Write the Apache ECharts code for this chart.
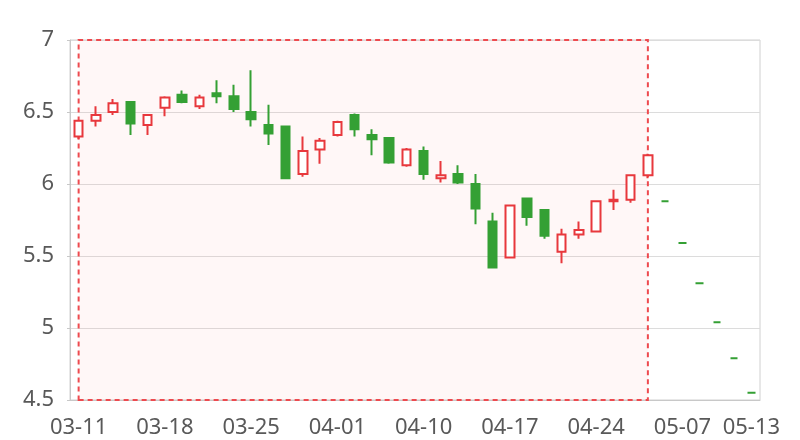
<!DOCTYPE html>
<html>
<head>
<meta charset="utf-8">
<script src="https://cdn.jsdelivr.net/npm/echarts@6/dist/echarts.min.js"></script>
<style>
html,body{margin:0;padding:0;background:#fff;}
#chart{width:800px;height:440px;}
</style>
</head>
<body>
<div id="chart"></div>
<script>
var dates = ['03-11','03-12','03-13','03-14','03-15','03-18','03-19','03-20','03-21','03-22',
  '03-25','03-26','03-27','03-28','03-29','04-01','04-02','04-03','04-08','04-09',
  '04-10','04-11','04-12','04-15','04-16','04-17','04-18','04-19','04-22','04-23',
  '04-24','04-25','04-26','04-30','05-06','05-07','05-08','05-09','05-10','05-13'];
var opens  = [6.33,6.44,6.50,6.57,6.41,6.53,6.62,6.54,6.63,6.61,6.50,6.41,6.40,6.07,6.24,6.34,6.48,6.34,6.32,6.13,6.23,6.04,6.07,6.00,5.74,5.49,5.90,5.82,5.53,5.65,5.67,5.88,5.89,6.06];
var closes = [6.44,6.48,6.56,6.42,6.48,6.60,6.57,6.60,6.61,6.52,6.45,6.35,6.04,6.23,6.30,6.43,6.38,6.31,6.15,6.24,6.07,6.06,6.01,5.83,5.42,5.85,5.77,5.64,5.65,5.68,5.88,5.89,6.06,6.20];
var lows   = [6.31,6.40,6.48,6.34,6.34,6.47,6.56,6.52,6.56,6.50,6.40,6.27,6.04,6.05,6.14,6.33,6.33,6.20,6.14,6.12,6.03,6.01,6.00,5.72,5.42,5.49,5.71,5.62,5.45,5.62,5.67,5.82,5.87,6.04];
var highs  = [6.44,6.54,6.59,6.57,6.48,6.61,6.65,6.62,6.72,6.69,6.79,6.55,6.40,6.33,6.32,6.44,6.49,6.38,6.32,6.25,6.26,6.16,6.13,6.07,5.80,5.85,5.90,5.82,5.69,5.74,5.88,5.96,6.06,6.21];
var forecast = [5.88,5.59,5.31,5.04,4.79,4.55];
var yTicks = [4.5,5,5.5,6,6.5,7];

var RED = '#e8383d', GREEN = '#34a034';
var kData = [], fData = [];
for (var i = 0; i < dates.length; i++) {
  if (i < opens.length) {
    kData.push([opens[i], closes[i], lows[i], highs[i]]);
    fData.push('-');
  } else {
    var v = forecast[i - opens.length];
    kData.push('-');
    fData.push([v, v, v, v]);
  }
}
var lastReal = opens.length - 1;

var chart = echarts.init(document.getElementById('chart'), null, {renderer: 'canvas'});
chart.setOption({
  animation: false,
  grid: {left: 70, right: 40, top: 40, bottom: 40, show: true, borderColor: '#d0d0d0', borderWidth: 1, backgroundColor: 'transparent'},
  xAxis: {
    type: 'category',
    data: dates,
    boundaryGap: true,
    axisLine: {lineStyle: {color: '#c8c8c8'}},
    axisTick: {show: false},
    axisLabel: {
      color: '#595959', fontSize: 22, fontFamily: 'Noto Sans', margin: 17,
      interval: function (idx) { return idx % 5 === 0 || idx === dates.length - 1; }
    },
    splitLine: {show: false}
  },
  yAxis: {
    type: 'value',
    min: yTicks[0], max: yTicks[yTicks.length - 1], interval: 0.5,
    axisLine: {show: true, lineStyle: {color: '#c8c8c8'}},
    axisTick: {show: true, length: 3, lineStyle: {color: '#c8c8c8'}},
    axisLabel: {color: '#595959', fontSize: 22, fontFamily: 'Noto Sans', margin: 16},
    splitLine: {lineStyle: {color: '#dcdcdc'}}
  },
  series: [
    {
      type: 'candlestick',
      data: kData,
      barWidth: 9,
      itemStyle: {color: '#ffffff', color0: GREEN, borderColor: RED, borderColor0: GREEN, borderWidth: 2},
      markArea: {
        silent: true,
        itemStyle: {color: 'rgba(255,120,120,0.06)', borderColor: '#ee4a4f', borderWidth: 2, borderType: [5, 4]},
        data: [[{xAxis: dates[0], yAxis: yTicks[0]}, {xAxis: dates[lastReal], yAxis: yTicks[yTicks.length - 1]}]]
      }
    },
    {
      type: 'candlestick',
      data: fData,
      barWidth: 8,
      itemStyle: {color: GREEN, color0: GREEN, borderColor: GREEN, borderColor0: GREEN, borderColorDoji: GREEN, borderWidth: 2}
    }
  ]
});
</script>
</body>
</html>
